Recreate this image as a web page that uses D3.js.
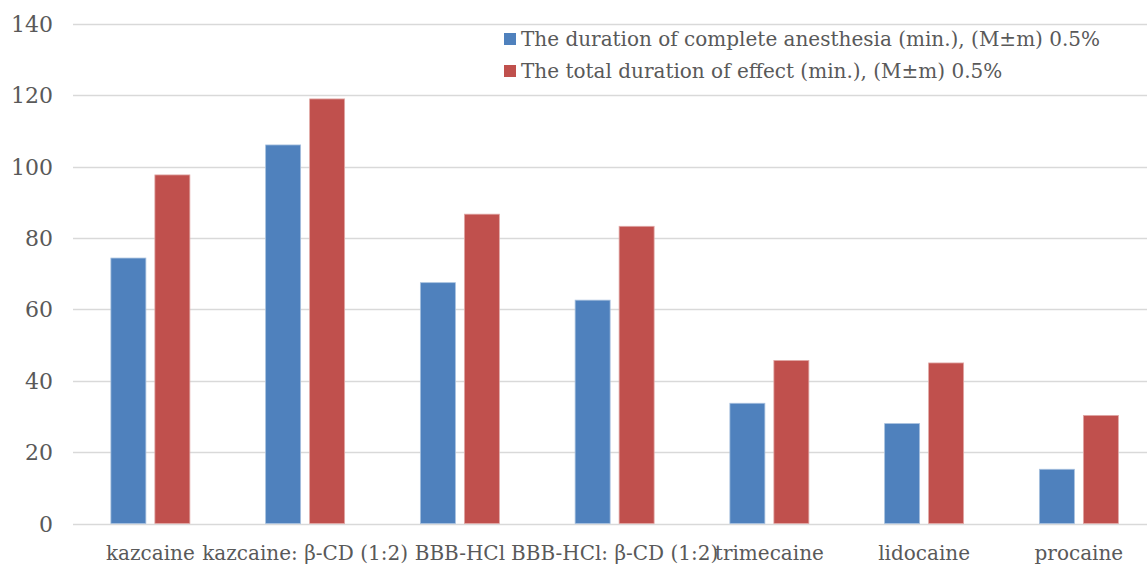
<!DOCTYPE html>
<html>
<head>
<meta charset="utf-8">
<script src="https://cdn.jsdelivr.net/npm/d3@7"></script>
<style>
  html, body { margin: 0; padding: 0; background: #fff; }
  svg text { font-family: "DejaVu Serif", "Liberation Serif", serif; fill: #595959; }
</style>
</head>
<body>
<svg id="chart"></svg>
<script>
// 数据
const categories = ["kazcaine", "kazcaine: β-CD (1:2)", "BBB-HCl", "BBB-HCl: β-CD (1:2)", "trimecaine", "lidocaine", "procaine"];
const seriesNames = ["The duration of complete anesthesia (min.), (M±m) 0.5%", "The total duration of effect (min.), (M±m) 0.5%"];
const anesthesia = [74.4, 106.1, 67.5, 62.6, 33.7, 28.0, 15.2];
const totalEffect = [97.7, 119.0, 86.7, 83.3, 45.7, 45.0, 30.3];
const yTicks = [0, 20, 40, 60, 80, 100, 120, 140];
const colors = ["#4f81bd", "#c0504d"];
const strokes = ["#a7c0de", "#e0a8a6"];

const width = 1147, height = 565;
const svg = d3.select("#chart").attr("width", width).attr("height", height);

const x0 = d3.scaleBand().domain(categories).range([73, 73 + 7 * 154.75]).padding(0);
const x1 = d3.scaleBand().domain([0, 1]).range([0, x0.bandwidth()])
    .paddingInner(0.2045).paddingOuter(0.861);
const y = d3.scaleLinear().domain([0, 140]).range([523.5, 24]);

// 网格线
svg.append("g")
    .selectAll("line")
    .data(yTicks)
    .join("line")
    .attr("x1", 73).attr("x2", width)
    .attr("y1", d => Math.round(y(d)) + 0.5).attr("y2", d => Math.round(y(d)) + 0.5)
    .attr("stroke", "#d9d9d9").attr("stroke-width", 1.5);

// y 轴标签
svg.append("g")
    .selectAll("text")
    .data(yTicks)
    .join("text")
    .attr("x", 53).attr("y", d => y(d) + 8)
    .attr("text-anchor", "end")
    .attr("font-size", "22px")
    .text(d => d);

// 柱子
const rows = categories.map((c, i) => ({ cat: c, vals: [anesthesia[i], totalEffect[i]] }));
const groups = svg.append("g").selectAll("g")
    .data(rows)
    .join("g")
    .attr("transform", d => `translate(${x0(d.cat)},0)`);

groups.selectAll("rect")
    .data(d => d.vals.map((v, k) => ({ k, v })))
    .join("rect")
    .attr("x", d => x1(d.k))
    .attr("y", d => y(d.v))
    .attr("width", x1.bandwidth())
    .attr("height", d => y(0) - y(d.v))
    .attr("fill", d => colors[d.k])
    .attr("stroke", d => strokes[d.k])
    .attr("stroke-width", 0.8);

// x 轴标签
svg.append("g")
    .selectAll("text")
    .data(categories)
    .join("text")
    .attr("x", d => x0(d) + x0.bandwidth() / 2)
    .attr("y", 560)
    .attr("text-anchor", "middle")
    .attr("font-size", "20px")
    .text(d => d);

// 图例
const legend = svg.append("g").attr("transform", "translate(504,33)");
seriesNames.forEach((name, i) => {
    legend.append("rect")
        .attr("x", 0).attr("y", i * 32)
        .attr("width", 12).attr("height", 12)
        .attr("fill", colors[i]);
    legend.append("text")
        .attr("x", 17).attr("y", i * 32 + 13)
        .attr("font-size", "20px")
        .text(name);
});
</script>
</body>
</html>
